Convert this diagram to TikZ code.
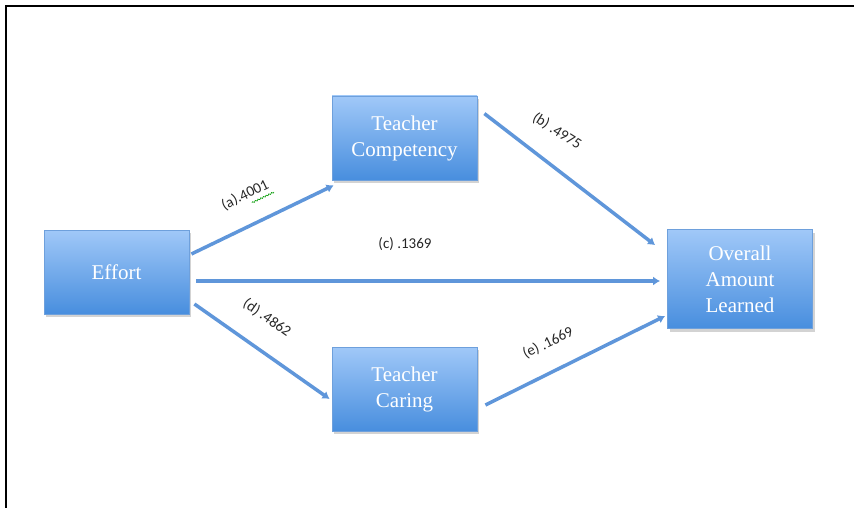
\documentclass[tikz,border=0pt]{standalone}
\usepackage{fontspec}
\setmainfont{Liberation Serif}
\newfontfamily\lblfont{Carlito}
\usetikzlibrary{arrows.meta,shadows,decorations.pathmorphing,calc}
\definecolor{boxtop}{RGB}{160,200,248}
\definecolor{boxbot}{RGB}{72,142,222}
\definecolor{boxline}{RGB}{110,160,220}
\definecolor{arrowblue}{RGB}{95,150,218}
\begin{document}
\begin{tikzpicture}[x=1pt,y=-1pt,
	varbox/.style={draw=boxline,line width=0.8pt,top color=boxtop,bottom color=boxbot,
		minimum width=145pt,minimum height=84pt,align=center,text=white,
		font=\fontsize{21}{26}\selectfont,drop shadow={shadow xshift=2pt,shadow yshift=-3pt,opacity=0.35}},
	path/.style={draw=arrowblue,line width=3.5pt,-{Latex[length=7pt,width=9pt]}},
	coef/.style={font=\lblfont\fontsize{15}{18}\selectfont,text=black!85}]
	\useasboundingbox (0,0) rectangle (854,508);
	\draw[line width=2pt] (6,508) -- (6,6) -- (854,6);

	\node[varbox] (effort) at (116.5,272) {Effort};
	\node[varbox] (comp) at (404.5,138) {Teacher\\Competency};
	\node[varbox] (caring) at (404.5,389) {Teacher\\Caring};
	\node[varbox,minimum height=99pt] (overall) at (740,279) {Overall\\Amount\\Learned};

	% paths
	\draw[path] ([shift={(2pt,18pt)}]effort.east) -- ([shift={(2pt,-5pt)}]comp.south west);
	\draw[path] ([shift={(7pt,-18pt)}]comp.north east) -- ([shift={(-12pt,-16pt)}]overall.north west);
	\coordinate (cstart) at ([shift={(7pt,-9pt)}]effort.east);
	\draw[path] (cstart) -- ([xshift=-7pt]overall.west |- cstart);
	\draw[path] ([shift={(5pt,-32pt)}]effort.east) -- ([shift={(-2pt,-10pt)}]caring.west);
	\draw[path] ([shift={(8pt,-16pt)}]caring.east) -- ([shift={(-2pt,-37pt)}]overall.west);

	\node[coef,rotate=26] (la) at (245,195) {(a).4001};
	\draw[green!60!black,line width=0.6pt,decorate,decoration={snake,amplitude=0.7pt,segment length=3pt}]
		($(la.south)!0.1!(la.south east)$) -- ($(la.south)!0.95!(la.south east)$);
	\node[coef,rotate=-32] (lb) at (557,131) {(b) .4975};
	\node[coef] (lc) at (405,244) {(c) .1369};
	\node[coef,rotate=-35] (ld) at (267,318) {(d) .4862};
	\node[coef,rotate=26] (le) at (548,343) {(e) .1669};
\end{tikzpicture}
\end{document}
